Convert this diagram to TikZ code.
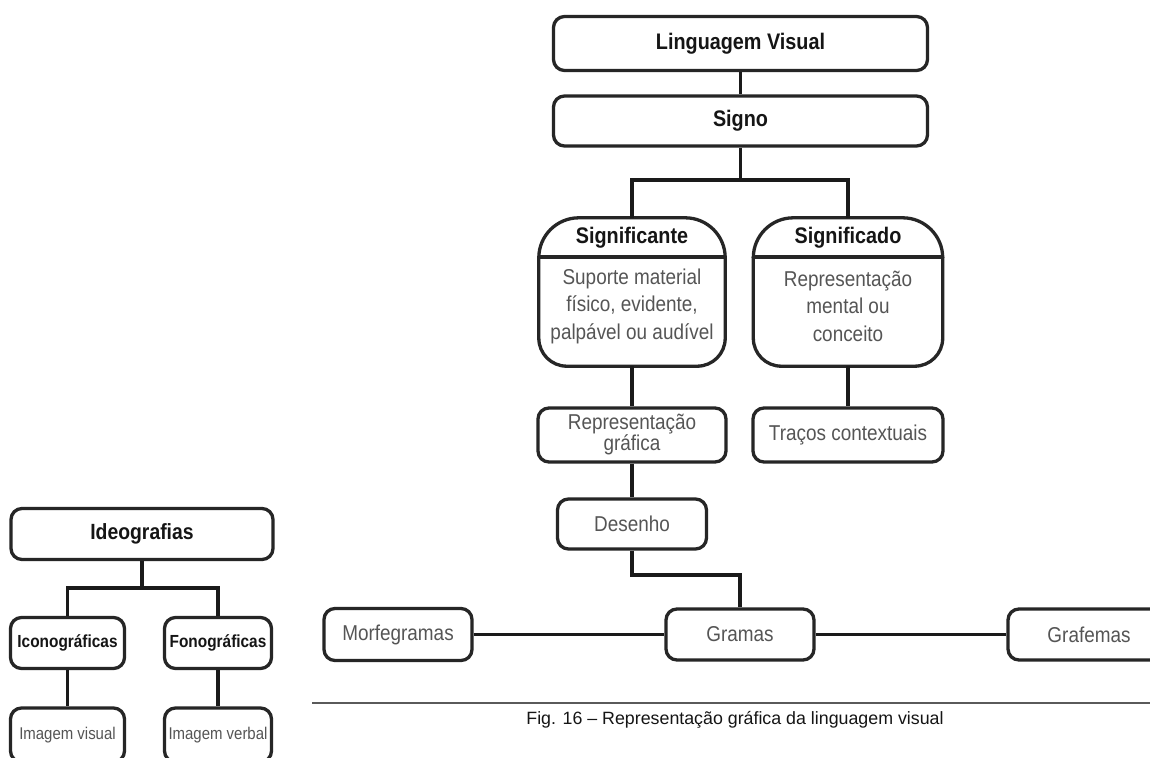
\documentclass[tikz,border=0pt]{standalone}
\usepackage{fontspec}
\setmainfont{Liberation Sans}[FakeStretch=0.88]
\newfontfamily\capfont{Liberation Sans}
\usetikzlibrary{calc}

\definecolor{framecol}{HTML}{262626}
\definecolor{linkcol}{HTML}{1A1A1A}
\definecolor{bodytext}{HTML}{555555}
\definecolor{headtext}{HTML}{151515}
\definecolor{rulecol}{HTML}{5A5A5A}

\tikzset{
  box/.style={draw=framecol, line width=3.3pt, rounded corners=11pt, fill=white,
              inner sep=0pt, align=center},
  frame/.style={draw=framecol, line width=3.3pt},
  conn/.style={draw=linkcol, line width=3.4pt},
  headfont/.style={font=\bfseries\fontsize{22.5}{26}\selectfont, text=headtext},
  bodyfont/.style={font=\fontsize{21.5}{27.5}\selectfont, text=bodytext},
  twoline/.style={font=\fontsize{21.5}{21}\selectfont, text=bodytext},
  smallhead/.style={font=\bfseries\fontsize{17.5}{20}\selectfont, text=headtext},
  smallbody/.style={font=\fontsize{17}{20}\selectfont, text=bodytext},
}

\begin{document}
\begin{tikzpicture}[x=1pt, y=-1pt]
  \fill[white] (0,0) rectangle (1150,757);
  \clip (0,0) rectangle (1150,757);

  % ---------- main hierarchy ----------
  \node[box, headfont, minimum width=374pt, minimum height=54pt] (lv) at (740.5,43.5) {Linguagem Visual};
  \node[box, headfont, minimum width=374pt, minimum height=50pt] (signo) at (740.5,121) {Signo};

  % two compound boxes: title on top, description below
  \node[inner sep=0pt, minimum width=186pt, minimum height=148pt] (sgnte) at (632,292) {};
  \node[inner sep=0pt, minimum width=189pt, minimum height=148pt] (sgdo) at (848,292) {};

  \foreach \b in {sgnte, sgdo}{
    \draw[frame, rounded corners=40pt] (\b.west |- 0,257) -- (\b.north west) -- (\b.north east) -- (\b.east |- 0,257);
    \draw[frame, rounded corners=28pt] (\b.west |- 0,257) -- (\b.south west) -- (\b.south east) -- (\b.east |- 0,257);
    \draw[frame] (\b.west |- 0,257) -- (\b.east |- 0,257);
  }

  \node[headfont] (sgnteT) at (632,238) {Significante};
  \node[bodyfont, align=center] (sgnteB) at (632,306) {Suporte material\\físico, evidente,\\palpável ou audível};
  \node[headfont] (sgdoT) at (848,238) {Significado};
  \node[bodyfont, align=center] (sgdoB) at (848,306) {Representação\\mental ou\\conceito};

  \node[box, twoline, minimum width=188pt, minimum height=54pt] (repr) at (632,435) {Representação\\gráfica};
  \node[box, bodyfont, minimum width=190pt, minimum height=54pt] (tracos) at (848,435) {Traços contextuais};
  \node[box, bodyfont, minimum width=149pt, minimum height=50pt] (desenho) at (632,524) {Desenho};

  \node[box, bodyfont, minimum width=148pt, minimum height=51pt] (gramas) at (740,634.5) {Gramas};
  \node[box, bodyfont, minimum width=148pt, minimum height=52pt] (morf) at (398,634.5) {Morfegramas};
  \node[box, bodyfont, minimum width=162pt, minimum height=51pt] (graf) at (1089,634.5) {Grafemas};

  \coordinate (j1) at (740.5,180);
  \coordinate (j2) at (740,575);

  \draw[conn] (lv.south) -- (signo.north);
  \draw[conn] (signo.south) -- (j1);
  \draw[conn] (sgnte.north) |- (j1) -| (sgdo.north);
  \draw[conn] (sgnte.south) -- (repr.north);
  \draw[conn] (sgdo.south) -- (tracos.north);
  \draw[conn] (repr.south) -- (desenho.north);
  \draw[conn] (desenho.south) |- (j2) -- (gramas.north);
  \draw[conn] (morf.east) -- (gramas.west);
  \draw[conn] (gramas.east) -- (graf.west);

  % ---------- rule and caption ----------
  \coordinate (r1) at (312,703);
  \coordinate (r2) at (1150,703);
  \draw[draw=rulecol, line width=2.5pt] (r1) -- (r2);
  \node[font=\capfont\fontsize{17.8}{20}\selectfont, text=headtext] (caption) at (735,720)
    {Fig. 16 – Representação gráfica da linguagem visual};

  % ---------- side tree ----------
  \node[box, font=\bfseries\fontsize{22}{24}\selectfont, text=headtext,
        minimum width=262pt, minimum height=51pt] (ideo) at (142,534) {Ideografias};
  \node[box, smallhead, minimum width=114pt, minimum height=51pt] (icono) at (67.5,643) {Iconográficas};
  \node[box, smallhead, minimum width=107pt, minimum height=51pt] (fono) at (218,643) {Fonográficas};
  \node[box, smallbody, minimum width=114pt, minimum height=54pt] (imgvis) at (67.5,735) {Imagem visual};
  \node[box, smallbody, minimum width=107pt, minimum height=54pt] (imgverb) at (218,735) {Imagem verbal};

  \coordinate (j3) at (142,588);
  \draw[conn] (ideo.south) -- (j3);
  \draw[conn] (icono.north) |- (j3) -| (fono.north);
  \draw[conn] (icono.south) -- (imgvis.north);
  \draw[conn] (fono.south) -- (imgverb.north);
\end{tikzpicture}
\end{document}
